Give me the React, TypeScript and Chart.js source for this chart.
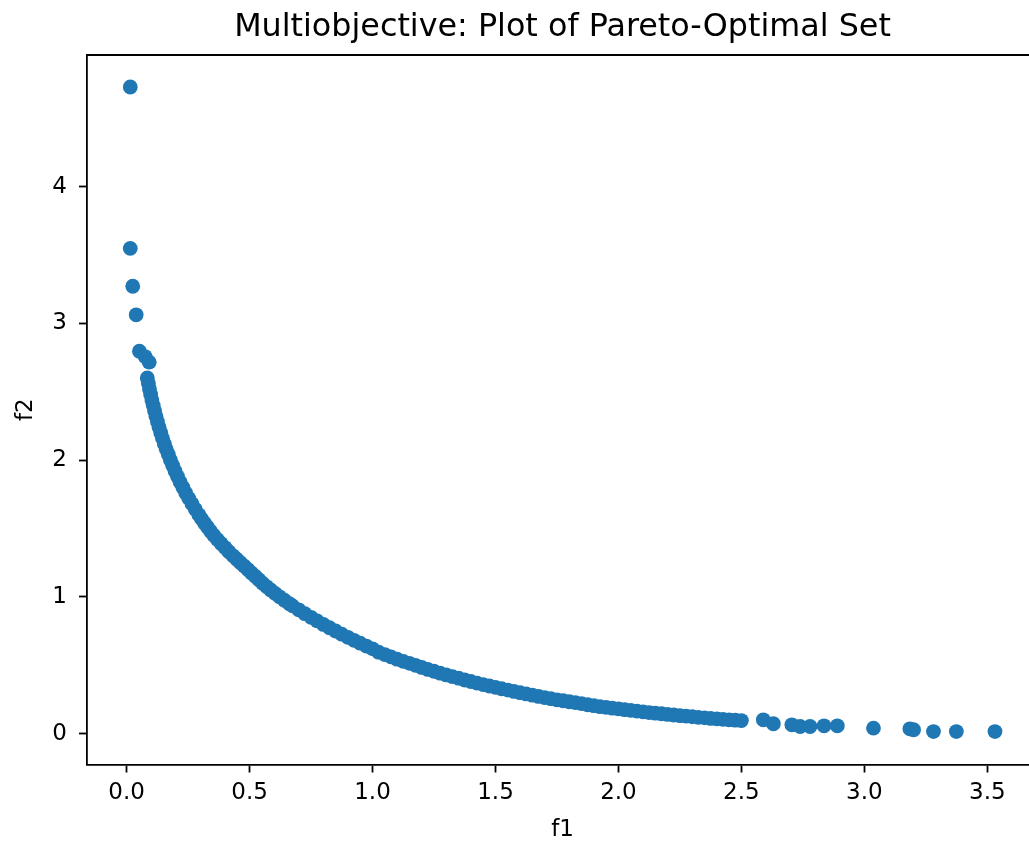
import React, { useEffect, useRef } from "react";
import { Chart, registerables } from "chart.js";

Chart.register(...registerables);

const TITLE = "Multiobjective: Plot of Pareto-Optimal Set";
const X_LABEL = "f1";
const Y_LABEL = "f2";
const X_TICKS = [0, 0.5, 1.0, 1.5, 2.0, 2.5, 3.0, 3.5];
const Y_TICKS = [0, 1, 2, 3, 4];

// Pareto-optimal set: f1 values
const F1_VALUES = [
  0.015, 0.015, 0.025, 0.039, 0.052, 0.075, 0.092,
  0.0842, 0.0885, 0.093, 0.0978, 0.1028, 0.1081, 0.1136, 0.1194, 0.1256, 0.132,
  0.1388, 0.1459, 0.1534, 0.1612, 0.1695, 0.1782, 0.1873, 0.1969, 0.207, 0.2176,
  0.2288, 0.2405, 0.2528, 0.2658, 0.2794, 0.2938, 0.305, 0.3166, 0.3287, 0.3413,
  0.3543, 0.369, 0.384, 0.4, 0.416, 0.433, 0.448, 0.463, 0.478, 0.493,
  0.508, 0.523, 0.538, 0.553, 0.569, 0.586, 0.604, 0.622, 0.6416, 0.662,
  0.675, 0.7, 0.725, 0.75, 0.775, 0.8, 0.825, 0.85, 0.875, 0.9,
  0.925, 0.95, 0.975, 1.0, 1.025, 1.05, 1.075, 1.1, 1.125, 1.15,
  1.175, 1.2, 1.225, 1.25, 1.275, 1.3, 1.325, 1.35, 1.375, 1.4,
  1.425, 1.45, 1.475, 1.5, 1.525, 1.55, 1.575, 1.6, 1.625, 1.65,
  1.675, 1.7, 1.725, 1.75, 1.775, 1.8, 1.825, 1.85, 1.875, 1.9,
  1.925, 1.95, 1.975, 2.0, 2.025, 2.05, 2.075, 2.1, 2.125, 2.15,
  2.175, 2.2, 2.225, 2.25, 2.275, 2.3, 2.325, 2.35, 2.375, 2.4,
  2.425, 2.45, 2.475, 2.5,
  2.589, 2.63, 2.705, 2.739, 2.779, 2.836, 2.89, 3.037, 3.185, 3.2,
  3.281, 3.374, 3.531,
];

// Pareto-optimal set: f2 values (same order as F1_VALUES)
const F2_VALUES = [
  4.728, 3.548, 3.271, 3.062, 2.796, 2.757, 2.716,
  2.6, 2.56, 2.52, 2.48, 2.44, 2.4, 2.36, 2.32, 2.28, 2.24,
  2.2, 2.16, 2.12, 2.08, 2.04, 2.0, 1.96, 1.92, 1.88, 1.84,
  1.8, 1.76, 1.72, 1.68, 1.64, 1.6, 1.57, 1.54, 1.51, 1.48,
  1.45, 1.42, 1.39, 1.36, 1.33, 1.3, 1.275, 1.25, 1.225, 1.2,
  1.175, 1.15, 1.125, 1.1, 1.075, 1.05, 1.025, 1.0, 0.975, 0.95,
  0.934, 0.905, 0.877, 0.85, 0.824, 0.798, 0.774, 0.75, 0.727, 0.704,
  0.682, 0.661, 0.64, 0.62, 0.595, 0.578, 0.561, 0.544, 0.528, 0.514,
  0.499, 0.484, 0.469, 0.456, 0.442, 0.429, 0.416, 0.405, 0.392, 0.381,
  0.369, 0.358, 0.348, 0.338, 0.328, 0.318, 0.308, 0.299, 0.29, 0.281,
  0.272, 0.263, 0.255, 0.247, 0.24, 0.233, 0.226, 0.219, 0.211, 0.204,
  0.197, 0.192, 0.186, 0.181, 0.175, 0.17, 0.165, 0.159, 0.154, 0.149,
  0.145, 0.14, 0.136, 0.131, 0.127, 0.123, 0.118, 0.115, 0.111, 0.108,
  0.104, 0.101, 0.098, 0.095,
  0.101, 0.072, 0.064, 0.052, 0.052, 0.057, 0.057, 0.04, 0.035, 0.028,
  0.015, 0.015, 0.015,
];

const FONT = "'DejaVu Sans', 'Liberation Sans', sans-serif";
const BLUE = "#1f77b4";

// Draws the top/right spines and the title centred over the plot area (as matplotlib does)
const framePlugin = {
  id: "frameAndTitle",
  afterDraw(chart: any) {
    const { ctx, chartArea } = chart;
    ctx.save();
    ctx.strokeStyle = "#000";
    ctx.lineWidth = 1.8;
    ctx.beginPath();
    ctx.moveTo(chartArea.left - 0.9, chartArea.top);
    ctx.lineTo(chartArea.right, chartArea.top);
    ctx.lineTo(chartArea.right, chartArea.bottom + 0.9);
    ctx.stroke();

    ctx.fillStyle = "#000";
    ctx.font = `normal 31.8px ${FONT}`;
    ctx.textAlign = "center";
    ctx.textBaseline = "middle";
    ctx.fillText(TITLE, (chartArea.left + chartArea.right) / 2, 27.9);
    ctx.restore();
  },
};

export default function App() {
  const ref = useRef<HTMLCanvasElement | null>(null);

  useEffect(() => {
    if (!ref.current) return;
    const points = F1_VALUES.map((x, i) => ({ x, y: F2_VALUES[i] }));
    const chart = new Chart(ref.current, {
      type: "scatter",
      data: {
        datasets: [
          {
            data: points,
            backgroundColor: BLUE,
            borderColor: BLUE,
            borderWidth: 0,
            pointRadius: 7.4,
            pointHoverRadius: 7.4,
          },
        ],
      },
      plugins: [framePlugin],
      options: {
        animation: false,
        responsive: false,
        devicePixelRatio: 1,
        layout: { padding: { left: 0, top: 55, bottom: 0, right: 82 } },
        plugins: {
          legend: { display: false },
          tooltip: { enabled: false },
          title: { display: false, text: TITLE },
        },
        scales: {
          x: {
            type: "linear",
            min: -0.161,
            max: 3.706,
            afterBuildTicks: (scale: any) => {
              scale.ticks = X_TICKS.map((v) => ({ value: v }));
            },
            afterFit: (scale: any) => {
              scale.height = 79.5;
            },
            border: { display: true, color: "#000", width: 1.8 },
            grid: {
              display: true,
              drawOnChartArea: false,
              drawTicks: true,
              tickLength: 8,
              tickColor: "#000",
              tickWidth: 1.8,
            },
            ticks: {
              color: "#000",
              padding: 7,
              maxRotation: 0,
              font: { family: FONT, size: 23 },
              callback: (v: any) => Number(v).toFixed(1),
            },
            title: {
              display: true,
              text: X_LABEL,
              color: "#000",
              font: { family: FONT, size: 23 },
              padding: { top: 0, bottom: 0 },
            },
          },
          y: {
            type: "linear",
            min: -0.226,
            max: 4.962,
            afterBuildTicks: (scale: any) => {
              scale.ticks = Y_TICKS.map((v) => ({ value: v }));
            },
            afterFit: (scale: any) => {
              scale.width = 87;
            },
            border: { display: true, color: "#000", width: 1.8 },
            grid: {
              display: true,
              drawOnChartArea: false,
              drawTicks: true,
              tickLength: 8,
              tickColor: "#000",
              tickWidth: 1.8,
            },
            ticks: {
              color: "#000",
              padding: 12,
              font: { family: FONT, size: 23 },
              callback: (v: any) => String(v),
            },
            title: {
              display: true,
              text: Y_LABEL,
              color: "#000",
              font: { family: FONT, size: 23 },
              padding: { top: 12, bottom: 0 },
            },
          },
        },
      },
    });
    return () => chart.destroy();
  }, []);

  return (
    <div
      style={{
        position: "fixed",
        left: 0,
        top: 0,
        width: 1029,
        height: 844,
        overflow: "hidden",
        background: "#fff",
      }}
    >
      <canvas ref={ref} width={1120} height={844} style={{ display: "block" }} />
    </div>
  );
}
